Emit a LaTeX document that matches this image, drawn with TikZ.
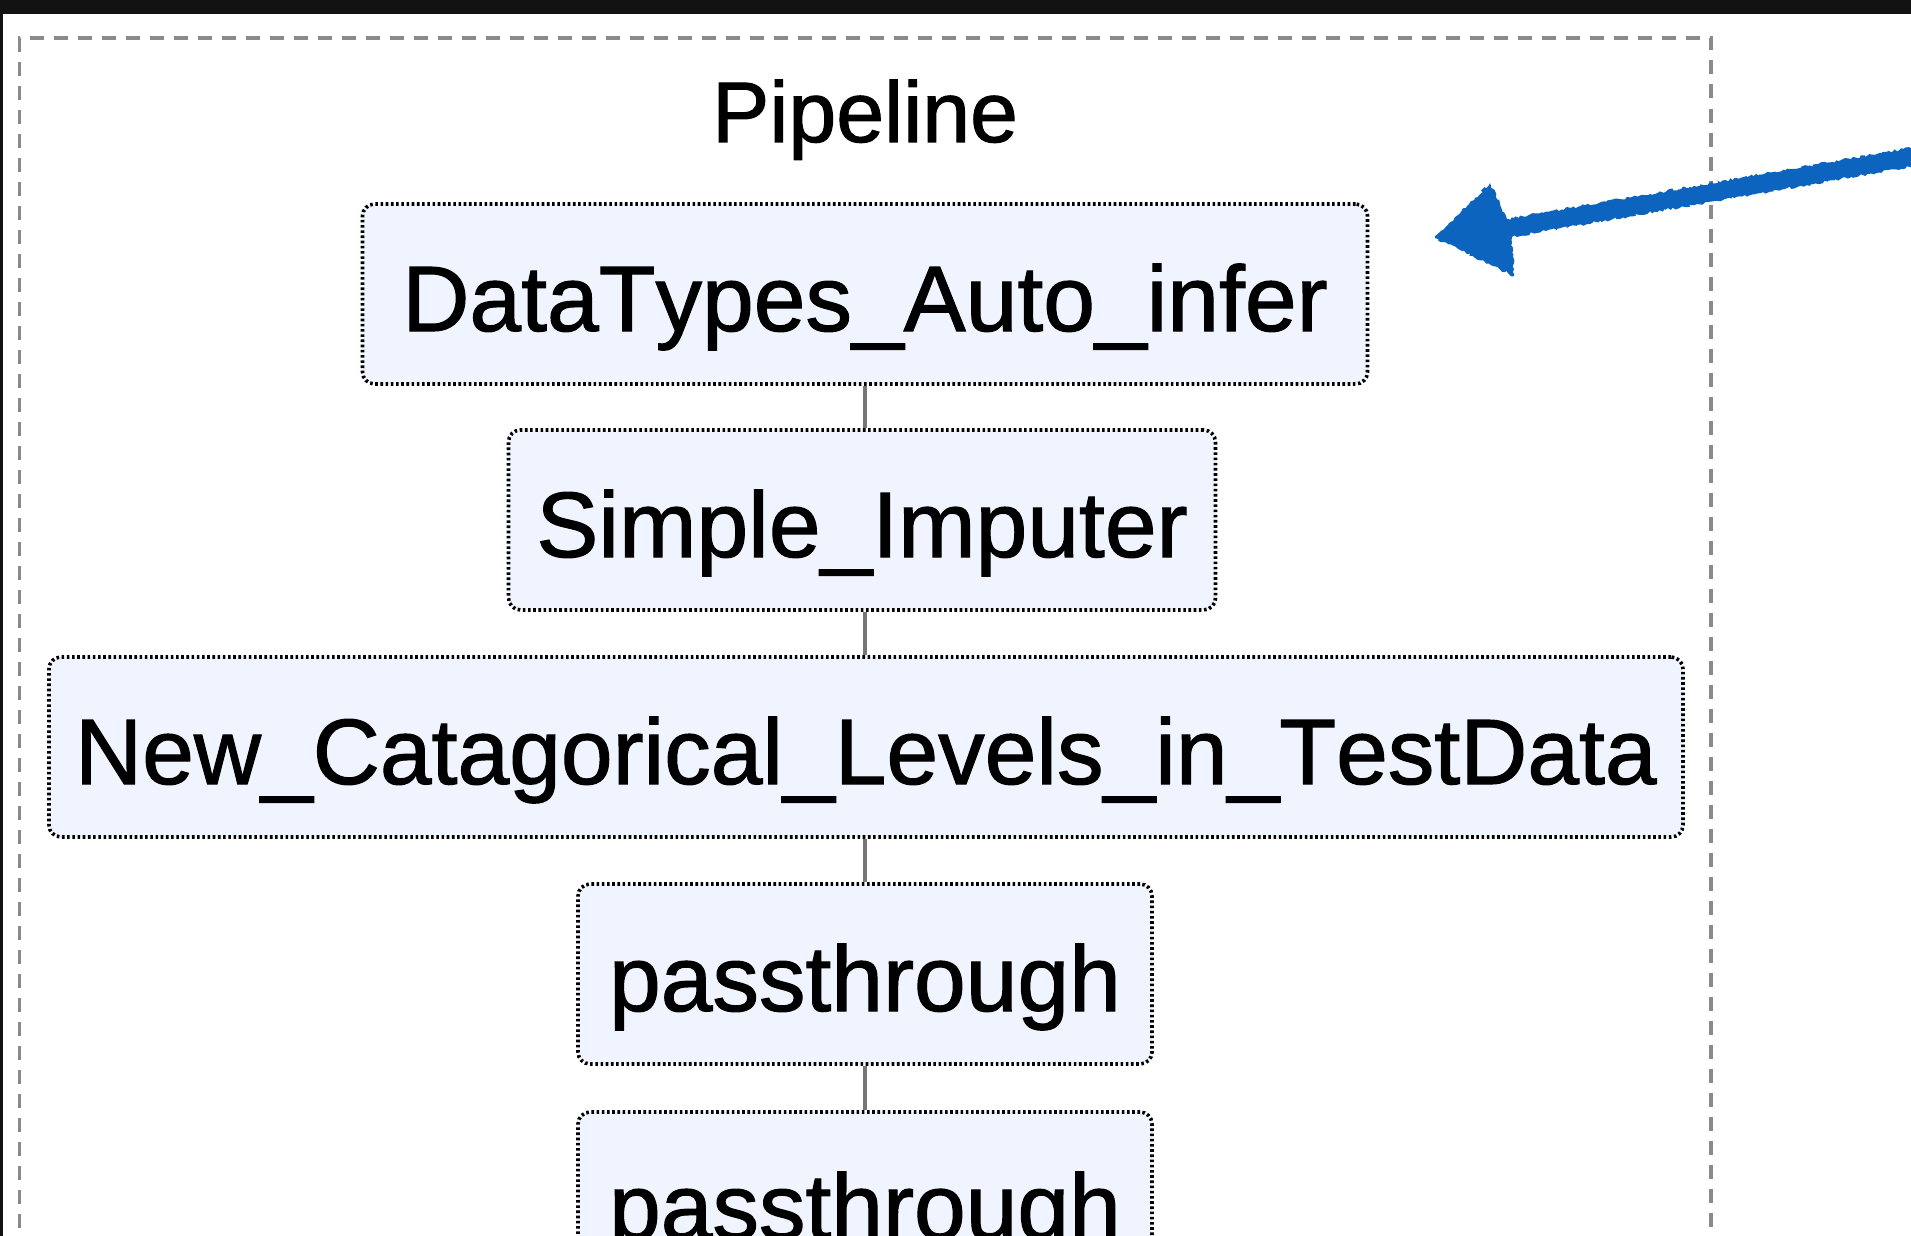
\documentclass[tikz,border=0pt]{standalone}
\usepackage{fontspec}
\setmainfont{Liberation Sans}[Kerning=Off, FakeBold=1.2]
\usetikzlibrary{decorations.pathmorphing}
\definecolor{framegray}{RGB}{138,138,138}
\definecolor{linkgray}{RGB}{118,118,118}
\definecolor{stepfill}{RGB}{239,244,254}
\definecolor{penblue}{RGB}{12,100,190}
\definecolor{topbar}{RGB}{18,18,18}
\begin{document}
\begin{tikzpicture}[x=1pt,y=-1pt,
  stepbox/.style={draw=black, line width=3.6pt, dash pattern=on 2.6pt off 2.6pt,
    fill=stepfill, rounded corners=12pt, minimum height=180pt, inner sep=0pt,
    text height=74pt, text depth=0pt, font=\fontsize{93}{100}\selectfont},
  link/.style={draw=linkgray, line width=3.6pt},
  frame/.style={draw=framegray, line width=3.5pt, dash pattern=on 14pt off 10pt},
  pen/.style={fill=penblue, decorate,
    decoration={random steps, segment length=2.5pt, amplitude=1.4pt}}]
\useasboundingbox (0,0) rectangle (1911,1236);
\clip (0,0) rectangle (1911,1236);
\fill[white] (0,0) rectangle (1911,1236);
% window edges
\fill[topbar] (0,0) rectangle (1911,14);
\fill[topbar] (0,0) rectangle (2.5,1236);
% pipeline frame
\draw[frame] (19.5,1300) -- (19.5,38) -- (1711,38) -- (1711,1300);
\node[font=\fontsize{86}{96}\selectfont, anchor=base] (title) at (865,142) {Pipeline};
% steps
\node[stepbox, minimum width=1005pt] (n1) at (865,294) {DataTypes\_Auto\_infer};
\node[stepbox, minimum width=707pt]  (n2) at (862,520) {Simple\_Imputer};
\node[stepbox, minimum width=1634pt] (n3) at (866,747) {New\_Catagorical\_Levels\_in\_TestData};
\node[stepbox, minimum width=574pt]  (n4) at (865,974) {passthrough};
\node[stepbox, minimum width=574pt]  (n5) at (865,1202) {passthrough};
\draw[link] (n1.south -| n4.center) -- (n2.north -| n4.center);
\draw[link] (n2.south -| n4.center) -- (n3.north -| n4.center);
\draw[link] (n3.south -| n4.center) -- (n4.north);
\draw[link] (n4.south) -- (n5.north);
% hand-drawn pointer
\coordinate (pa) at (1915,147);
\coordinate (pb) at (1915,166);
\coordinate (pc) at (1512,237);
\coordinate (pd) at (1514,276);
\coordinate (tip) at (1435,238);
\coordinate (pe) at (1490,183);
\coordinate (pf) at (1507,219);
\fill[pen] (pa) -- (pb) -- (pc) -- (pd) -- (tip) -- (pe) -- (pf) -- cycle;
\end{tikzpicture}
\end{document}
